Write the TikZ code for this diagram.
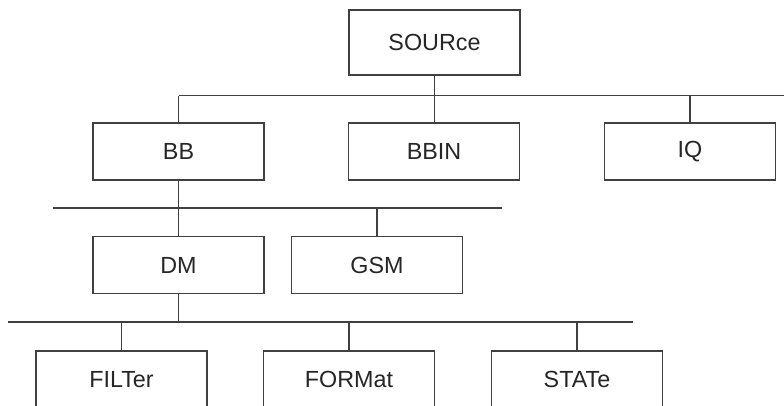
\documentclass[tikz,border=0pt]{standalone}
\usepackage{fontspec}
\setmainfont{Liberation Sans}
\begin{document}
\begin{tikzpicture}[x=0.75pt,y=-0.75pt,
  box/.style={draw=black!75,line width=1.3pt,minimum width=128.25pt,minimum height=42.75pt,inner sep=0pt,font=\fontsize{17.5}{19}\selectfont,text=black!85},
  wire/.style={draw=black!75,line width=1.3pt}]
\clip (0,0) rectangle (784,405);
\fill[white] (0,0) rectangle (784,405);
\node[box,minimum height=48.75pt] (src) at (434.5,42.5) {SOURce};
\node[box] (bb) at (178.5,151.5) {BB};
\node[box] (bbin) at (434,151.5) {BBIN};
\node[box] (iq) at (690,151.5) {IQ};
\node[box] (dm) at (178.5,265) {DM};
\node[box] (gsm) at (377,265) {GSM};
\node[box] (filt) at (121.5,379.5) {FILTer};
\node[box] (form) at (349,379.5) {FORMat};
\node[box] (state) at (577,379.5) {STATe};
\coordinate (b1l) at (178.5,95.5);
\coordinate (b1r) at (790,95.5);
\coordinate (b2l) at (53,208);
\coordinate (b2r) at (502,208);
\coordinate (b3l) at (8,322);
\coordinate (b3r) at (633,322);
\draw[wire] (b1l) -- (b1r);
\draw[wire] (b2l) -- (b2r);
\draw[wire] (b3l) -- (b3r);
\draw[wire] (src.south) -- (src.south |- bbin.north);
\draw[wire] (bb.north) -- (bb.north |- b1l);
\draw[wire] (iq.north) -- (iq.north |- b1l);
\draw[wire] (bb.south) -- (dm.north);
\draw[wire] (gsm.north) -- (gsm.north |- b2l);
\draw[wire] (dm.south) -- (dm.south |- b3l);
\draw[wire] (filt.north) -- (filt.north |- b3l);
\draw[wire] (form.north) -- (form.north |- b3l);
\draw[wire] (state.north) -- (state.north |- b3l);
\end{tikzpicture}
\end{document}
